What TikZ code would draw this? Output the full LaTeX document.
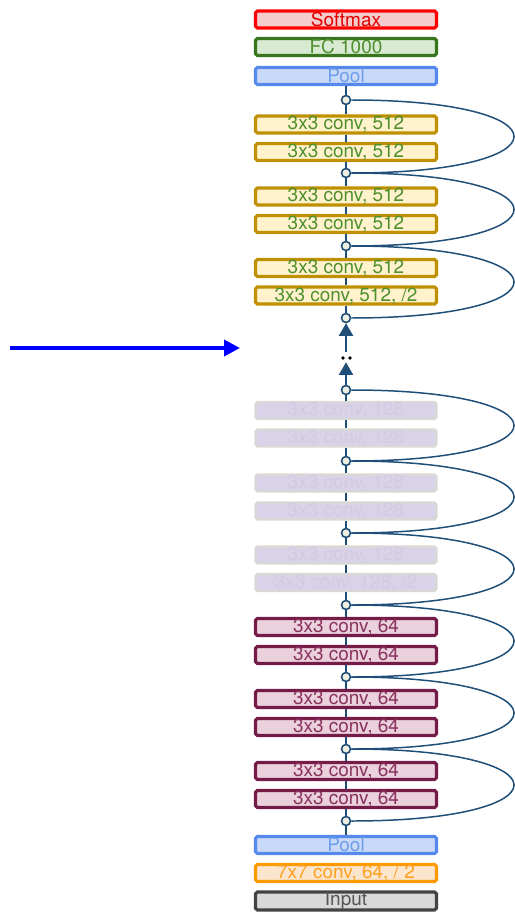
\documentclass[tikz,border=0pt]{standalone}
\usepackage{fontspec}
\setsansfont{TeX Gyre Heros}
\usepackage{xcolor}
\usetikzlibrary{arrows.meta, positioning}

\definecolor{netblue}{HTML}{1F4E79}
\definecolor{dotfill}{HTML}{EEEEE2}

\begin{document}
\begin{tikzpicture}[x=0.02cm, y=-0.02cm,
  layer/.style={draw, line width=1.8pt, rounded corners=1pt, minimum width=3.62cm,
                minimum height=0.34cm, inner sep=0pt, font=\sffamily\fontsize{10.8}{12}\selectfont},
  softbox/.style={layer, draw=red, fill={rgb,255:red,244;green,204;blue,204}, text=red!90!black},
  fcbox/.style={layer, draw={rgb,255:red,56;green,118;blue,29}, fill={rgb,255:red,217;green,234;blue,211},
                text={rgb,255:red,78;green,143;blue,46}},
  poolbox/.style={layer, draw={rgb,255:red,85;green,138;blue,236}, fill={rgb,255:red,201;green,218;blue,248},
                text={rgb,255:red,109;green,158;blue,235}},
  bigconv/.style={layer, draw={rgb,255:red,191;green,144;blue,0}, fill={rgb,255:red,255;green,242;blue,204},
                text={rgb,255:red,78;green,143;blue,46}},
  smallconv/.style={layer, draw={rgb,255:red,116;green,27;blue,71}, fill={rgb,255:red,234;green,209;blue,220},
                text={rgb,255:red,138;green,50;blue,95}},
  firstconv/.style={layer, draw={rgb,255:red,255;green,153;blue,0}, fill={rgb,255:red,252;green,229;blue,205},
                text={rgb,255:red,255;green,160;blue,30}},
  inbox/.style={layer, draw={rgb,255:red,67;green,67;blue,67}, fill={rgb,255:red,217;green,217;blue,217},
                text={rgb,255:red,85;green,85;blue,85}},
  fadebox/.style={layer, line width=1.2pt, draw={rgb,255:red,217;green,217;blue,212},
                fill={rgb,255:red,217;green,210;blue,233}, text={rgb,255:red,210;green,203;blue,226}},
  junc/.style={circle, draw=netblue, fill=dotfill, line width=0.9pt, minimum size=0.18cm, inner sep=0pt},
  flow/.style={draw=netblue, line width=1.1pt},
  fadeflow/.style={flow, dash pattern=on 5pt off 4pt},
  skip/.style={draw=netblue, line width=0.85pt},
  uparr/.style={flow, -{Triangle[length=0.25cm, width=0.28cm]}},
  bluearr/.style={draw=blue, line width=2.1pt, -{Triangle[length=0.32cm, width=0.32cm]}}
]
  \useasboundingbox (0,0) rectangle (514,912);

  % top of the network
  \node[softbox] (soft) at (346,19.5) {Softmax};
  \node[fcbox] (fc) at (346,47) {FC 1000};
  \node[poolbox] (pooltop) at (346,76) {Pool};
  \node[junc] (s0) at (346,100) {};
  \node[bigconv] (c1) at (346,124.5) {3x3 conv, 512};
  \node[bigconv] (c2) at (346,152) {3x3 conv, 512};
  \node[junc] (s1) at (346,173) {};
  \node[bigconv] (c3) at (346,196.5) {3x3 conv, 512};
  \node[bigconv] (c4) at (346,224) {3x3 conv, 512};
  \node[junc] (s2) at (346,246) {};
  \node[bigconv] (c5) at (346,268) {3x3 conv, 512};
  \node[bigconv] (c6) at (346,295.5) {3x3 conv, 512, /2};
  \node[junc] (s3) at (346,318) {};

  % gap
  \node[minimum width=0.3cm, minimum height=0.2cm, inner sep=0pt] (gap) at (346,357) {};
  \fill (343,358) circle (1.1pt) (350,358) circle (1.1pt);

  % faded stage
  \node[junc] (s4) at (346,390) {};
  \node[fadebox] (g1) at (346,410.5) {3x3 conv, 128};
  \node[fadebox] (g2) at (346,438) {3x3 conv, 128};
  \node[junc] (s5) at (346,461) {};
  \node[fadebox] (g3) at (346,483) {3x3 conv, 128};
  \node[fadebox] (g4) at (346,511) {3x3 conv, 128};
  \node[junc] (s6) at (346,533) {};
  \node[fadebox] (g5) at (346,555) {3x3 conv, 128};
  \node[fadebox] (g6) at (346,582.5) {3x3 conv, 128, /2};
  \node[junc] (s7) at (346,605) {};

  % bottom of the network
  \node[smallconv] (p1) at (346,627) {3x3 conv, 64};
  \node[smallconv] (p2) at (346,655) {3x3 conv, 64};
  \node[junc] (s8) at (346,677) {};
  \node[smallconv] (p3) at (346,699) {3x3 conv, 64};
  \node[smallconv] (p4) at (346,727) {3x3 conv, 64};
  \node[junc] (s9) at (346,749) {};
  \node[smallconv] (p5) at (346,771) {3x3 conv, 64};
  \node[smallconv] (p6) at (346,799) {3x3 conv, 64};
  \node[junc] (s10) at (346,821) {};
  \node[poolbox] (poolbot) at (346,845) {Pool};
  \node[firstconv] (conv1) at (346,873) {7x7 conv, 64, / 2};
  \node[inbox] (inp) at (346,901) {Input};

  % main path
  \draw[flow] (pooltop) -- (s0) -- (c1) -- (c2) -- (s1) -- (c3) -- (c4) -- (s2) -- (c5) -- (c6) -- (s3);
  \draw[uparr] (gap) -- (s3);
  \draw[uparr] (s4) -- (gap);
  \draw[fadeflow] (s4) -- (g1);
  \draw[fadeflow] (g1) -- (g2);
  \draw[fadeflow] (g2) -- (s5);
  \draw[fadeflow] (s5) -- (g3);
  \draw[fadeflow] (g3) -- (g4);
  \draw[fadeflow] (g4) -- (s6);
  \draw[fadeflow] (s6) -- (g5);
  \draw[fadeflow] (g5) -- (g6);
  \draw[fadeflow] (g6) -- (s7);
  \draw[flow] (s7) -- (p1) -- (p2) -- (s8) -- (p3) -- (p4) -- (s9) -- (p5) -- (p6) -- (s10) -- (poolbot);

  % shortcuts
  \draw[skip] (s0.east) .. controls +(217,0) and +(217,0) .. (s1.east);
  \draw[skip] (s1.east) .. controls +(217,0) and +(217,0) .. (s2.east);
  \draw[skip] (s2.east) .. controls +(217,0) and +(217,0) .. (s3.east);
  \draw[skip] (s4.east) .. controls +(217,0) and +(217,0) .. (s5.east);
  \draw[skip] (s5.east) .. controls +(217,0) and +(217,0) .. (s6.east);
  \draw[skip] (s6.east) .. controls +(217,0) and +(217,0) .. (s7.east);
  \draw[skip] (s7.east) .. controls +(217,0) and +(217,0) .. (s8.east);
  \draw[skip] (s8.east) .. controls +(217,0) and +(217,0) .. (s9.east);
  \draw[skip] (s9.east) .. controls +(217,0) and +(217,0) .. (s10.east);

  % pointer
  \coordinate (from) at (10,348);
  \coordinate (to) at (240,348);
  \draw[bluearr] (from) -- (to);
\end{tikzpicture}
\end{document}
